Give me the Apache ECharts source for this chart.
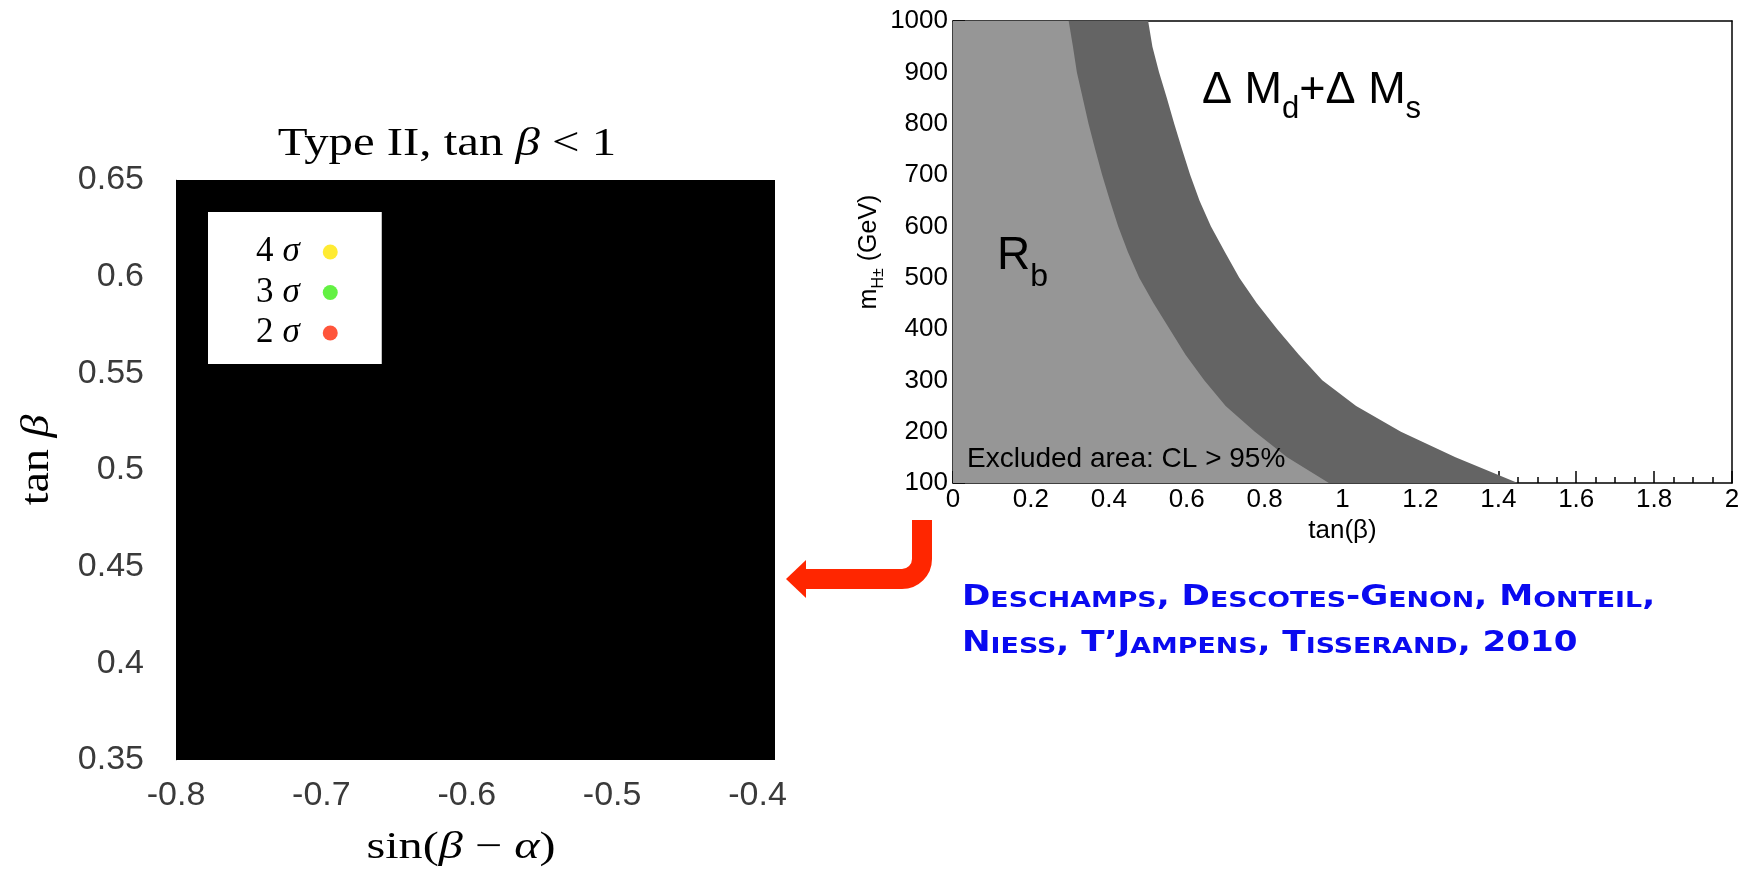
<!DOCTYPE html>
<html><head><meta charset="utf-8">
<script src="https://cdn.jsdelivr.net/npm/echarts@6/dist/echarts.min.js"></script>
<style>html,body{margin:0;padding:0;background:#fff}#c{width:1757px;height:869px}</style>
</head><body><div id="c"></div>
<script>
// ---------- Left panel: Type II, tan(beta) < 1 ----------
const leftXMin = -0.8, leftXMax = -0.388, leftXInterval = 0.1;
const leftYMin = 0.35, leftYMax = 0.65, leftYInterval = 0.05;
const sigmaLevels = ['4σ', '3σ', '2σ'];
const sigmaColors = ['#ffe600', '#3cee14', '#ff2a0a'];
// filled (excluded) scan region: [sin(b-a) min, tanb min, sin(b-a) max, tanb max]
const scanRegion = [[-0.8, 0.35, -0.388, 0.65]];

// ---------- Right panel: excluded area CL > 95% ----------
const xTicksRight = {min: 0, max: 2, interval: 0.2};
const yTicksRight = {min: 100, max: 1000, interval: 100};
const massGeV    = [1000, 950, 900, 850, 800, 750, 700, 650, 600, 550, 500, 450, 400, 350, 300, 250, 200, 150, 100];
const rbTanBeta  = [0.297, 0.308, 0.318, 0.333, 0.348, 0.365, 0.383, 0.403, 0.424, 0.449, 0.478, 0.515, 0.556, 0.597, 0.645, 0.70, 0.775, 0.858, 0.965];
const mixTanBeta = [0.501, 0.512, 0.529, 0.549, 0.568, 0.588, 0.609, 0.633, 0.662, 0.698, 0.735, 0.78, 0.832, 0.888, 0.948, 1.035, 1.15, 1.29, 1.45];

const sans = "'Liberation Sans', Arial, Helvetica, sans-serif";
const serif = "'Liberation Serif', 'Times New Roman', serif";
const citeFont = "'DejaVu Sans', Verdana, sans-serif";

function toSmallCaps(str) {
  let out = '', cur = null, buf = '';
  for (const ch of str) {
    const t = (ch >= 'a' && ch <= 'z') ? 's' : 'C';
    if (t !== cur && buf) { out += '{' + cur + '|' + buf + '}'; buf = ''; }
    cur = t; buf += (t === 's') ? ch.toUpperCase() : ch;
  }
  if (buf) out += '{' + cur + '|' + buf + '}';
  return out;
}
function subStyles(F, f, drop, family, color) {
  return {
    m: {fontSize: F, lineHeight: F, verticalAlign: 'top', fontFamily: family, fill: color, color: color},
    s: {fontSize: f, lineHeight: 0.8 * F + drop + 0.275 * f, verticalAlign: 'bottom', fontFamily: family, fill: color, color: color}
  };
}
function serifRich(F) {
  return {
    a: {fontFamily: serif, fontSize: F, fill: '#000', lineHeight: F},
    b: {fontFamily: serif, fontSize: F, fontStyle: 'italic', fill: '#000', lineHeight: F}
  };
}
const citeRich = {
  C: {fontSize: 28, lineHeight: 28, verticalAlign: 'bottom', fontFamily: citeFont, fontWeight: 'bold', fill: '#0a0af0'},
  s: {fontSize: 22, lineHeight: 24.4, verticalAlign: 'bottom', fontFamily: citeFont, fontWeight: 'bold', fill: '#0a0af0'}
};

const chart = echarts.init(document.getElementById('c'));
const arrowColor = '#ff2600';
const option = {
  animation: false,
  backgroundColor: '#fff',
  grid: [
    {left: 176, top: 180, width: 599, height: 580, containLabel: false, outerBoundsMode: 'none'},
    {left: 953, top: 21, width: 779, height: 462, containLabel: false, outerBoundsMode: 'none'}
  ],
  legend: {
    data: sigmaLevels, orient: 'vertical', left: 208, top: 212, align: 'right',
    backgroundColor: '#fff', padding: [20, 44, 11, 48], itemGap: 0.5,
    itemWidth: 15, itemHeight: 15, icon: 'circle', selectedMode: false,
    formatter: n => '{n|' + n[0] + '}{s|σ}{g| }',
    textStyle: {
      lineHeight: 40,
      rich: {
        n: {fontFamily: serif, fontSize: 35, color: '#000', lineHeight: 40},
        s: {fontFamily: serif, fontSize: 35, fontStyle: 'italic', color: '#000', lineHeight: 40, padding: [0, 0, 0, 9]},
        g: {width: 18, fontSize: 10, lineHeight: 40}
      }
    }
  },
  xAxis: [
    {
      gridIndex: 0, type: 'value', min: leftXMin, max: leftXMax, interval: leftXInterval,
      axisLine: {show: false, onZero: false}, axisTick: {show: false}, splitLine: {show: false},
      axisLabel: {fontFamily: sans, fontSize: 34, color: '#3a3a3a', margin: 19, showMaxLabel: false}
    },
    {
      gridIndex: 1, type: 'value', min: xTicksRight.min, max: xTicksRight.max, interval: xTicksRight.interval,
      axisLine: {onZero: false, lineStyle: {color: '#000', width: 1.5}},
      axisTick: {inside: true, length: 12, lineStyle: {color: '#000', width: 1.5}},
      minorTick: {show: true, splitNumber: 4, length: 6, lineStyle: {color: '#000', width: 1.5}},
      splitLine: {show: false}, minorSplitLine: {show: false},
      axisLabel: {fontFamily: sans, fontSize: 26, color: '#000', margin: 4, formatter: v => String(v)},
      name: 'tan(β)', nameLocation: 'middle', nameGap: 30,
      nameTextStyle: {fontFamily: sans, fontSize: 26, color: '#000'}
    },
    {
      gridIndex: 1, type: 'value', position: 'top', min: xTicksRight.min, max: xTicksRight.max,
      axisLine: {onZero: false, lineStyle: {color: '#000', width: 1.5}},
      axisTick: {show: false}, axisLabel: {show: false}, splitLine: {show: false}
    }
  ],
  yAxis: [
    {
      gridIndex: 0, type: 'value', min: leftYMin, max: leftYMax, interval: leftYInterval,
      axisLine: {show: true, onZero: false, lineStyle: {color: '#999', width: 1}}, axisTick: {show: false}, splitLine: {show: false},
      axisLabel: {fontFamily: sans, fontSize: 34, color: '#3a3a3a', margin: 32}
    },
    {
      gridIndex: 1, type: 'value', min: yTicksRight.min, max: yTicksRight.max, interval: yTicksRight.interval,
      axisLine: {onZero: false, lineStyle: {color: '#000', width: 1.5}},
      axisTick: {inside: true, length: 12, lineStyle: {color: '#000', width: 1.5}},
      splitLine: {show: false},
      axisLabel: {fontFamily: sans, fontSize: 26, color: '#000', margin: 5, formatter: v => String(v)},
      name: '{m|m}{s|H±}{m| (GeV)}', nameLocation: 'middle', nameGap: 55,
      nameTextStyle: {rich: subStyles(25, 16, 5, sans, '#000')}
    },
    {
      gridIndex: 1, type: 'value', position: 'right', min: yTicksRight.min, max: yTicksRight.max,
      axisLine: {onZero: false, lineStyle: {color: '#000', width: 1.5}},
      axisTick: {show: false}, axisLabel: {show: false}, splitLine: {show: false}
    }
  ],
  series: [
    {
      name: 'scan', type: 'custom', xAxisIndex: 0, yAxisIndex: 0, silent: true,
      encode: {x: [0, 2], y: [1, 3]},
      data: scanRegion,
      renderItem: (params, api) => {
        const p0 = api.coord([api.value(0), api.value(1)]);
        const p1 = api.coord([api.value(2), api.value(3)]);
        return {type: 'rect', shape: {x: p0[0], y: p1[1], width: p1[0] - p0[0], height: p0[1] - p1[1]}, style: {fill: '#000'}};
      }
    },
    ...sigmaLevels.map((n, i) => ({
      name: n, type: 'scatter', xAxisIndex: 0, yAxisIndex: 0, data: [],
      itemStyle: {color: sigmaColors[i]}
    })),
    {
      name: 'ΔMd+ΔMs', type: 'line', xAxisIndex: 1, yAxisIndex: 1, silent: true,
      symbol: 'none', lineStyle: {width: 0},
      areaStyle: {color: '#646464', opacity: 1, origin: 'start'},
      data: [[0, massGeV[0]]].concat(mixTanBeta.map((t, i) => [t, massGeV[i]]))
    },
    {
      name: 'Rb', type: 'line', xAxisIndex: 1, yAxisIndex: 1, silent: true,
      symbol: 'none', lineStyle: {width: 0},
      areaStyle: {color: '#969696', opacity: 1, origin: 'start'},
      data: [[0, massGeV[0]]].concat(rbTanBeta.map((t, i) => [t, massGeV[i]]))
    }
  ],
  graphic: [
    {type: 'text', x: 447, y: 144, z: 100, scaleX: 1.19, style: {
      text: '{a|Type II, tan }{b|β}{a| < 1}', align: 'center', verticalAlign: 'middle', rich: serifRich(41)}},
    {type: 'text', x: 461, y: 848, z: 100, scaleX: 1.27, style: {
      text: '{a|sin(}{b|β}{a| − }{b|α}{a|)}', align: 'center', verticalAlign: 'middle', rich: serifRich(38)}},
    {type: 'text', x: 37, y: 460, z: 100, rotation: Math.PI / 2, scaleX: 1.15, style: {
      text: '{a|tan }{b|β}', align: 'center', verticalAlign: 'middle', rich: serifRich(40)}},
    {type: 'text', x: 997, y: 233, z: 100, style: {text: '{m|R}{s|b}', rich: subStyles(46, 32, 15, sans, '#000')}},
    {type: 'text', x: 1202, y: 68, z: 100, style: {text: '{m|Δ M}{s|d}{m|+Δ M}{s|s}', rich: subStyles(45, 31, 12, sans, '#000')}},
    {type: 'text', x: 967, y: 445, z: 100, style: {text: 'Excluded area: CL > 95%', font: '28px ' + sans, fill: '#000'}},
    {type: 'text', x: 962, y: 584, z: 100, scaleX: 1.22, style: {text: toSmallCaps('Deschamps, Descotes-Genon, Monteil,'), rich: citeRich}},
    {type: 'text', x: 962, y: 630, z: 100, scaleX: 1.22, style: {text: toSmallCaps('Niess, T’Jampens, Tisserand, 2010'), rich: citeRich}},
    {type: 'line', z: 100, shape: {x1: 922, y1: 520, x2: 922, y2: 559}, style: {stroke: arrowColor, lineWidth: 20}},
    {type: 'arc', z: 100, shape: {cx: 902, cy: 559, r: 20, startAngle: 0, endAngle: Math.PI / 2, clockwise: true}, style: {stroke: arrowColor, lineWidth: 20, fill: null}},
    {type: 'line', z: 100, shape: {x1: 902, y1: 579, x2: 805, y2: 579}, style: {stroke: arrowColor, lineWidth: 20}},
    {type: 'polygon', z: 100, shape: {points: [[786, 579], [806, 560], [806, 598]]}, style: {fill: arrowColor}}
  ]
};
chart.setOption(option);
</script>
</body></html>
